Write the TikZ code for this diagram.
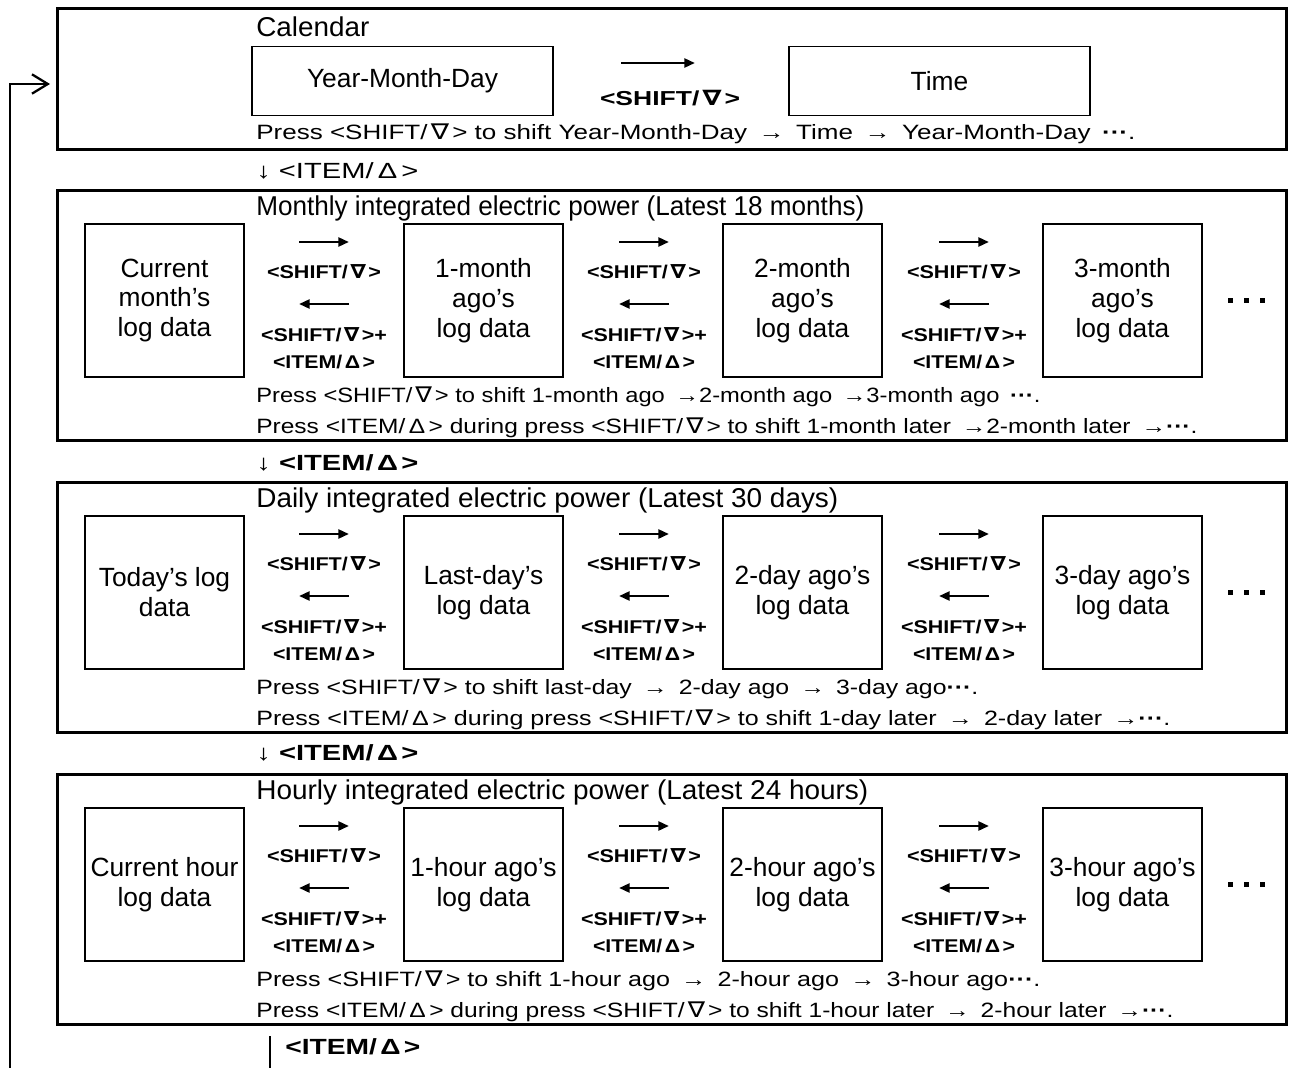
\documentclass[tikz,border=0pt]{standalone}
\usepackage{graphicx}
\usepackage{fontspec}
\setmainfont{Liberation Sans}
\newfontfamily\symfont{DejaVu Sans}[Scale=1.05]
\usetikzlibrary{arrows.meta}
% full-width key symbols
\newcommand\nab{\makebox[0.95em]{\symfont ∇}}
\newcommand\tri{\makebox[0.95em]{Δ}}
\newcommand\sqd{\textbf{···}}
% drawing unit and horizontal fitting of a text to a given width
\newlength\pxu
\setlength\pxu{0.02cm}
\newcommand\wx[2]{\resizebox{#1\pxu}{\height}{#2}}

% One log section: #1 name prefix, #2 top edge, #3-#6 box texts,
% #7 heading, #8 first note line, #9 second note line
\newcommand\logrow[9]{%
  \node[frame, minimum height=5.02cm] (#1frame) at (672,#2+125.5) {};
  \node[title] (#1title) at (256,#2+18) {#7};
  \node[logbox] (#1b1) at (164.5,#2+110.5) {#3};
  \node[logbox] (#1b2) at (483.5,#2+110.5) {#4};
  \node[logbox] (#1b3) at (802.5,#2+110.5) {#5};
  \node[logbox] (#1b4) at (1122.5,#2+110.5) {#6};
  \foreach \i/\cx in {1/324,2/644,3/964}{
    \coordinate (#1fa\i) at (\cx-25,#2+52);
    \coordinate (#1fb\i) at (\cx+25,#2+52);
    \coordinate (#1ba\i) at (\cx+25,#2+114);
    \coordinate (#1bb\i) at (\cx-25,#2+114);
    \draw[keyarrow] (#1fa\i) -- (#1fb\i);
    \draw[keyarrow] (#1ba\i) -- (#1bb\i);
    \node[keylbl] (#1fl\i) at (\cx,#2+82) {\wx{114}{<SHIFT/\nab>}};
    \node[keylbl] (#1bl\i) at (\cx,#2+145) {\wx{126}{<SHIFT/\nab>+}};
    \node[keylbl] (#1bk\i) at (\cx,#2+172) {\wx{102}{<ITEM/\tri>}};
  }
  \node[sq] (#1d1) at (1230,#2+110.5) {};
  \node[sq] (#1d2) at (1246,#2+110.5) {};
  \node[sq] (#1d3) at (1262,#2+110.5) {};
  \node[note] (#1na) at (256,#2+207) {#8};
  \node[note] (#1nb) at (256,#2+238) {#9};
}

\begin{document}
\begin{tikzpicture}[x=0.02cm,y=-0.02cm,
  frame/.style={draw, line width=1.7pt, minimum width=24.6cm, inner sep=0},
  logbox/.style={draw, line width=1.1pt, minimum width=3.18cm, minimum height=3.06cm,
    align=center, inner sep=0, font=\fontsize{15}{17}\selectfont},
  calbox/.style={draw, line width=1.1pt, minimum width=6.02cm, minimum height=1.38cm,
    inner sep=0, font=\fontsize{15}{17}\selectfont},
  title/.style={anchor=west, inner sep=0, font=\fontsize{15.5}{18}\selectfont},
  note/.style={anchor=west, inner sep=0, font=\fontsize{11.8}{14}\selectfont},
  keylbl/.style={inner sep=0, font=\bfseries\fontsize{10.5}{12}\selectfont},
  keyarrow/.style={line width=1.5pt, -{Triangle[length=6pt,width=5pt]}},
  sq/.style={fill, minimum size=0.1cm, inner sep=0},
  downlbl/.style={anchor=west, inner sep=0, font=\bfseries\fontsize{12.5}{14}\selectfont},
]
\useasboundingbox (0,0) rectangle (1292,1068);

% Calendar section
\node[frame, minimum height=2.84cm] (calframe) at (672,79) {};
\node[title] (caltitle) at (256,27) {\wx{113}{Calendar}};
\node[calbox] (ymd) at (402.5,81) {Year-Month-Day};
\node[calbox] (time) at (939.5,81) {Time};
\coordinate (calfa) at (621,63);
\coordinate (calfb) at (695,63);
\draw[keyarrow] (calfa) -- (calfb);
\node[inner sep=0, font=\bfseries\fontsize{11.5}{13}\selectfont] (calkey) at (670,98) {\wx{140}{<SHIFT/\nab>}};
\node[note] (calnote) at (256,134) {\wx{879}{Press <SHIFT/\nab> to shift Year-Month-Day \,→\, Time \,→\, Year-Month-Day \,\sqd.}};

\node[anchor=west, inner sep=0, font=\fontsize{12.5}{15}\selectfont] (down1) at (256,171) {\wx{162}{↓ <ITEM/\tri>}};

\logrow{mon}{190}{Current\\month’s\\log data}{1-month\\ago’s\\log data}{2-month\\ago’s\\log data}{3-month\\ago’s\\log data}%
  {\wx{608}{Monthly integrated electric power (Latest 18 months)}}%
  {\wx{784}{Press <SHIFT/\nab> to shift 1-month ago \,→2-month ago \,→3-month ago \,\sqd.}}%
  {\wx{941}{Press <ITEM/\tri> during press <SHIFT/\nab> to shift 1-month later \,→2-month later \,→\sqd.}}

\node[downlbl] (down2) at (256,463) {\wx{162}{{\mdseries ↓} <ITEM/\tri>}};

\logrow{day}{482}{Today’s log\\data}{Last-day’s\\log data}{2-day ago’s\\log data}{3-day ago’s\\log data}%
  {\wx{582}{Daily integrated electric power (Latest 30 days)}}%
  {\wx{722}{Press <SHIFT/\nab> to shift last-day \,→\, 2-day ago \,→\, 3-day ago\sqd.}}%
  {\wx{914}{Press <ITEM/\tri> during press <SHIFT/\nab> to shift 1-day later \,→\, 2-day later \,→\sqd.}}

\node[downlbl] (down3) at (256,753) {\wx{162}{{\mdseries ↓} <ITEM/\tri>}};

\logrow{hour}{774}{Current hour\\log data}{1-hour ago’s\\log data}{2-hour ago’s\\log data}{3-hour ago’s\\log data}%
  {\wx{612}{Hourly integrated electric power (Latest 24 hours)}}%
  {\wx{784}{Press <SHIFT/\nab> to shift 1-hour ago \,→\, 2-hour ago \,→\, 3-hour ago\sqd.}}%
  {\wx{917}{Press <ITEM/\tri> during press <SHIFT/\nab> to shift 1-hour later \,→\, 2-hour later \,→\sqd.}}

% Return path from the last section back to the calendar
\coordinate (downtop) at (270,1036);
\coordinate (downbot) at (270,1068);
\draw[line width=1.3pt] (downtop) -- (downbot);
\node[downlbl] (down4) at (285,1047) {\wx{135}{<ITEM/\tri>}};

\coordinate (loopstart) at (10,1068);
\coordinate (loopend) at (50,84);
\draw[line width=1.3pt, -{Straight Barb[length=9pt,width=11pt,line width=1.3pt]}] (loopstart) |- (loopend);
\end{tikzpicture}
\end{document}
